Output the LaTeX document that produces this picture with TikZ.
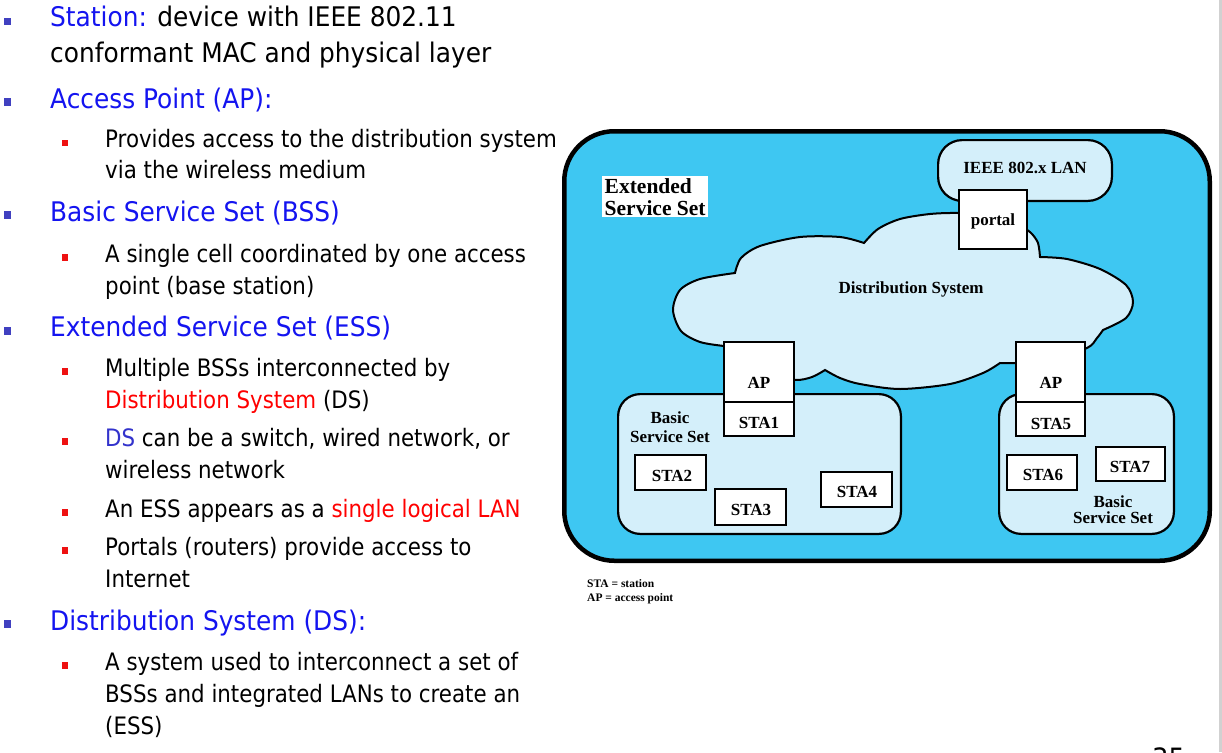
\documentclass[tikz,border=0pt]{standalone}
\usepackage{fontspec}
\newfontfamily\tahA[FakeStretch=0.92]{DejaVu Sans}
\newfontfamily\tahB[FakeStretch=0.89]{DejaVu Sans}
\newfontfamily\tnr{Liberation Serif}
\definecolor{hblue}{RGB}{20,20,240}
\definecolor{dsblue}{RGB}{51,51,204}
\definecolor{bonecol}{RGB}{64,64,192}
\definecolor{btwocol}{RGB}{238,17,17}
\definecolor{redtxt}{RGB}{255,0,0}
\definecolor{essfill}{RGB}{62,199,242}
\definecolor{lightfill}{RGB}{212,239,250}
\begin{document}
\begin{tikzpicture}[x=1pt,y=-1pt,
  lone/.style={anchor=base west,inner sep=0pt,font=\tahA\fontsize{27}{32}\selectfont},
  ltwo/.style={anchor=base west,inner sep=0pt,font=\tahB\fontsize{24}{29}\selectfont},
  bulone/.style={fill=bonecol,minimum width=7.5pt,minimum height=7.5pt,inner sep=0pt},
  bultwo/.style={fill=btwocol,minimum width=6.5pt,minimum height=6.5pt,inner sep=0pt},
  stabox/.style={draw=black,line width=2.2pt,fill=white,inner sep=0pt},
  setbox/.style={draw=black,line width=2.2pt,fill=lightfill,inner sep=0pt},
  lbl/.style={anchor=base,inner sep=0pt,font=\tnr\bfseries\fontsize{17}{19}\selectfont},
  legend/.style={anchor=base west,inner sep=0pt,font=\tnr\bfseries\fontsize{11.5}{13}\selectfont}
]
\useasboundingbox (0,0) rectangle (1222,752);
\fill[white] (0,0) rectangle (1222,752);

% ---------------- left text column ----------------
\node[bulone] (b1) at (7.5,21.5) {};
\node[lone] (t1a) at (50,27) {\textcolor{hblue}{Station:} device with IEEE 802.11};
\node[lone] (t1b) at (50,63) {conformant MAC and physical layer};
\node[bulone] (b2) at (7.5,102) {};
\node[lone,text=hblue] (t2) at (50,108) {Access Point (AP):};
\node[bultwo] (b3) at (65,143) {};
\node[ltwo] (t3a) at (105,147) {Provides access to the distribution system};
\node[ltwo] (t3b) at (105,178) {via the wireless medium};
\node[bulone] (b4) at (7.5,215) {};
\node[lone,text=hblue] (t4) at (50,221) {Basic Service Set (BSS)};
\node[bultwo] (b5) at (65,257.5) {};
\node[ltwo] (t5a) at (105,262) {A single cell coordinated by one access};
\node[ltwo] (t5b) at (105,294) {point (base station)};
\node[bulone] (b6) at (7.5,331) {};
\node[lone,text=hblue] (t6) at (50,336) {Extended Service Set (ESS)};
\node[bultwo] (b7) at (65,371.5) {};
\node[ltwo] (t7a) at (105,376) {Multiple BSSs interconnected by};
\node[ltwo] (t7b) at (105,408) {\textcolor{redtxt}{Distribution System} (DS)};
\node[bultwo] (b8) at (65,441.5) {};
\node[ltwo] (t8a) at (105,446) {\textcolor{dsblue}{DS} can be a switch, wired network, or};
\node[ltwo] (t8b) at (105,478) {wireless network};
\node[bultwo] (b9) at (65,512.5) {};
\node[ltwo] (t9) at (105,517) {An ESS appears as a \textcolor{redtxt}{single logical LAN}};
\node[bultwo] (b10) at (65,550.5) {};
\node[ltwo] (t10a) at (105,555) {Portals (routers) provide access to};
\node[ltwo] (t10b) at (105,587) {Internet};
\node[bulone] (b11) at (7.5,624) {};
\node[lone,text=hblue] (t11) at (50,630) {Distribution System (DS):};
\node[bultwo] (b12) at (65,665.5) {};
\node[ltwo] (t12a) at (105,670) {A system used to interconnect a set of};
\node[ltwo] (t12b) at (105,702) {BSSs and integrated LANs to create an};
\node[ltwo] (t12c) at (105,734) {(ESS)};

% ---------------- diagram ----------------
\node[draw=black,line width=4.5pt,fill=essfill,rounded corners=50pt,
      minimum width=645.5pt,minimum height=429.5pt,inner sep=0pt] (ess) at (887,346) {};

\node[setbox,rounded corners=24pt,minimum width=173.8pt,minimum height=60.8pt] (lan) at (1025,170.5) {};
\node[lbl] (lant) at (1025,173) {IEEE 802.x LAN};

\path[draw=black,line width=2pt,fill=lightfill]
  plot[smooth] coordinates {(724,346) (700,342) (681,331) (673,310) (680,290) (700,279) (735,273)}
  -- plot[smooth] coordinates {(735,273) (741,258) (760,246) (800,237) (840,237) (864,243)}
  -- plot[smooth] coordinates {(864,243) (878,229) (900,219) (930,214) (958,213) (990,215) (1020,226) (1031,233) (1038,243) (1040,257)}
  -- plot[smooth] coordinates {(1040,257) (1067,259) (1100,269) (1126,285) (1133,302) (1126,318) (1103,330)}
  -- plot[smooth] coordinates {(1103,330) (1097,338) (1087,348) (1050,360) (1015,363) (1000,363)}
  -- plot[smooth] coordinates {(1000,363) (983,373) (950,384) (900,389) (860,384) (840,378) (825,370)}
  -- plot[smooth] coordinates {(825,370) (812,377) (795,380) (760,375) (724,346)}
  -- cycle;
\node[lbl] (dst) at (911,293) {Distribution System};

\node[stabox,minimum width=67.8pt,minimum height=58.8pt] (portal) at (993,219.5) {};
\node[lbl] (portalt) at (993,225) {portal};

\node[fill=white,anchor=north west,inner xsep=2.5pt,inner ysep=2pt,align=left,
      font=\tnr\bfseries\fontsize{21.5}{22}\selectfont] (esslbl) at (602,176) {Extended\\Service Set};

% left BSS
\node[setbox,rounded corners=22pt,minimum width=282.8pt,minimum height=139.8pt] (bssl) at (759.5,464) {};
\node[lbl] (bsslt1) at (670,423) {Basic};
\node[lbl] (bsslt2) at (670,442) {Service Set};
% right BSS
\node[setbox,rounded corners=22pt,minimum width=174.8pt,minimum height=139.8pt] (bssr) at (1086.5,464) {};
\node[lbl] (bssrt1) at (1113,507) {Basic};
\node[lbl] (bssrt2) at (1113,523) {Service Set};

% AP / STA boxes
\node[stabox,minimum width=69.8pt,minimum height=59.9pt] (apl) at (759,372) {};
\node[stabox,minimum width=69.8pt,minimum height=33.9pt] (sta1) at (759,419) {};
\node[lbl] (aplt) at (759,388) {AP};
\node[lbl] (sta1t) at (759,428) {STA1};

\node[stabox,minimum width=68.8pt,minimum height=59.9pt] (apr) at (1050.5,372) {};
\node[stabox,minimum width=68.8pt,minimum height=33.9pt] (sta5) at (1050.5,419) {};
\node[lbl] (aprt) at (1051,388) {AP};
\node[lbl] (sta5t) at (1051,429) {STA5};

\node[stabox,minimum width=70.8pt,minimum height=34.8pt] (sta2) at (670.5,472.5) {};
\node[lbl] (sta2t) at (672,481) {STA2};
\node[stabox,minimum width=70.8pt,minimum height=35.8pt] (sta3) at (750.5,507) {};
\node[lbl] (sta3t) at (751,515) {STA3};
\node[stabox,minimum width=70.8pt,minimum height=34.8pt] (sta4) at (856.5,489.5) {};
\node[lbl] (sta4t) at (857,497) {STA4};
\node[stabox,minimum width=69.8pt,minimum height=34.8pt] (sta6) at (1042,472.5) {};
\node[lbl] (sta6t) at (1043,480) {STA6};
\node[stabox,minimum width=68.8pt,minimum height=33.8pt] (sta7) at (1130.5,464) {};
\node[lbl] (sta7t) at (1130,472) {STA7};

% legend
\node[legend] (leg1) at (587,587) {STA = station};
\node[legend] (leg2) at (587,601) {AP = access point};

% page edge and clipped page number
\draw[black!18,line width=2.5pt] (1220.5,0) -- (1220.5,752);
\node[anchor=north west,inner sep=0pt,font=\tahA\fontsize{28}{30}\selectfont] (pnum) at (1152,748) {35};
\end{tikzpicture}
\end{document}
